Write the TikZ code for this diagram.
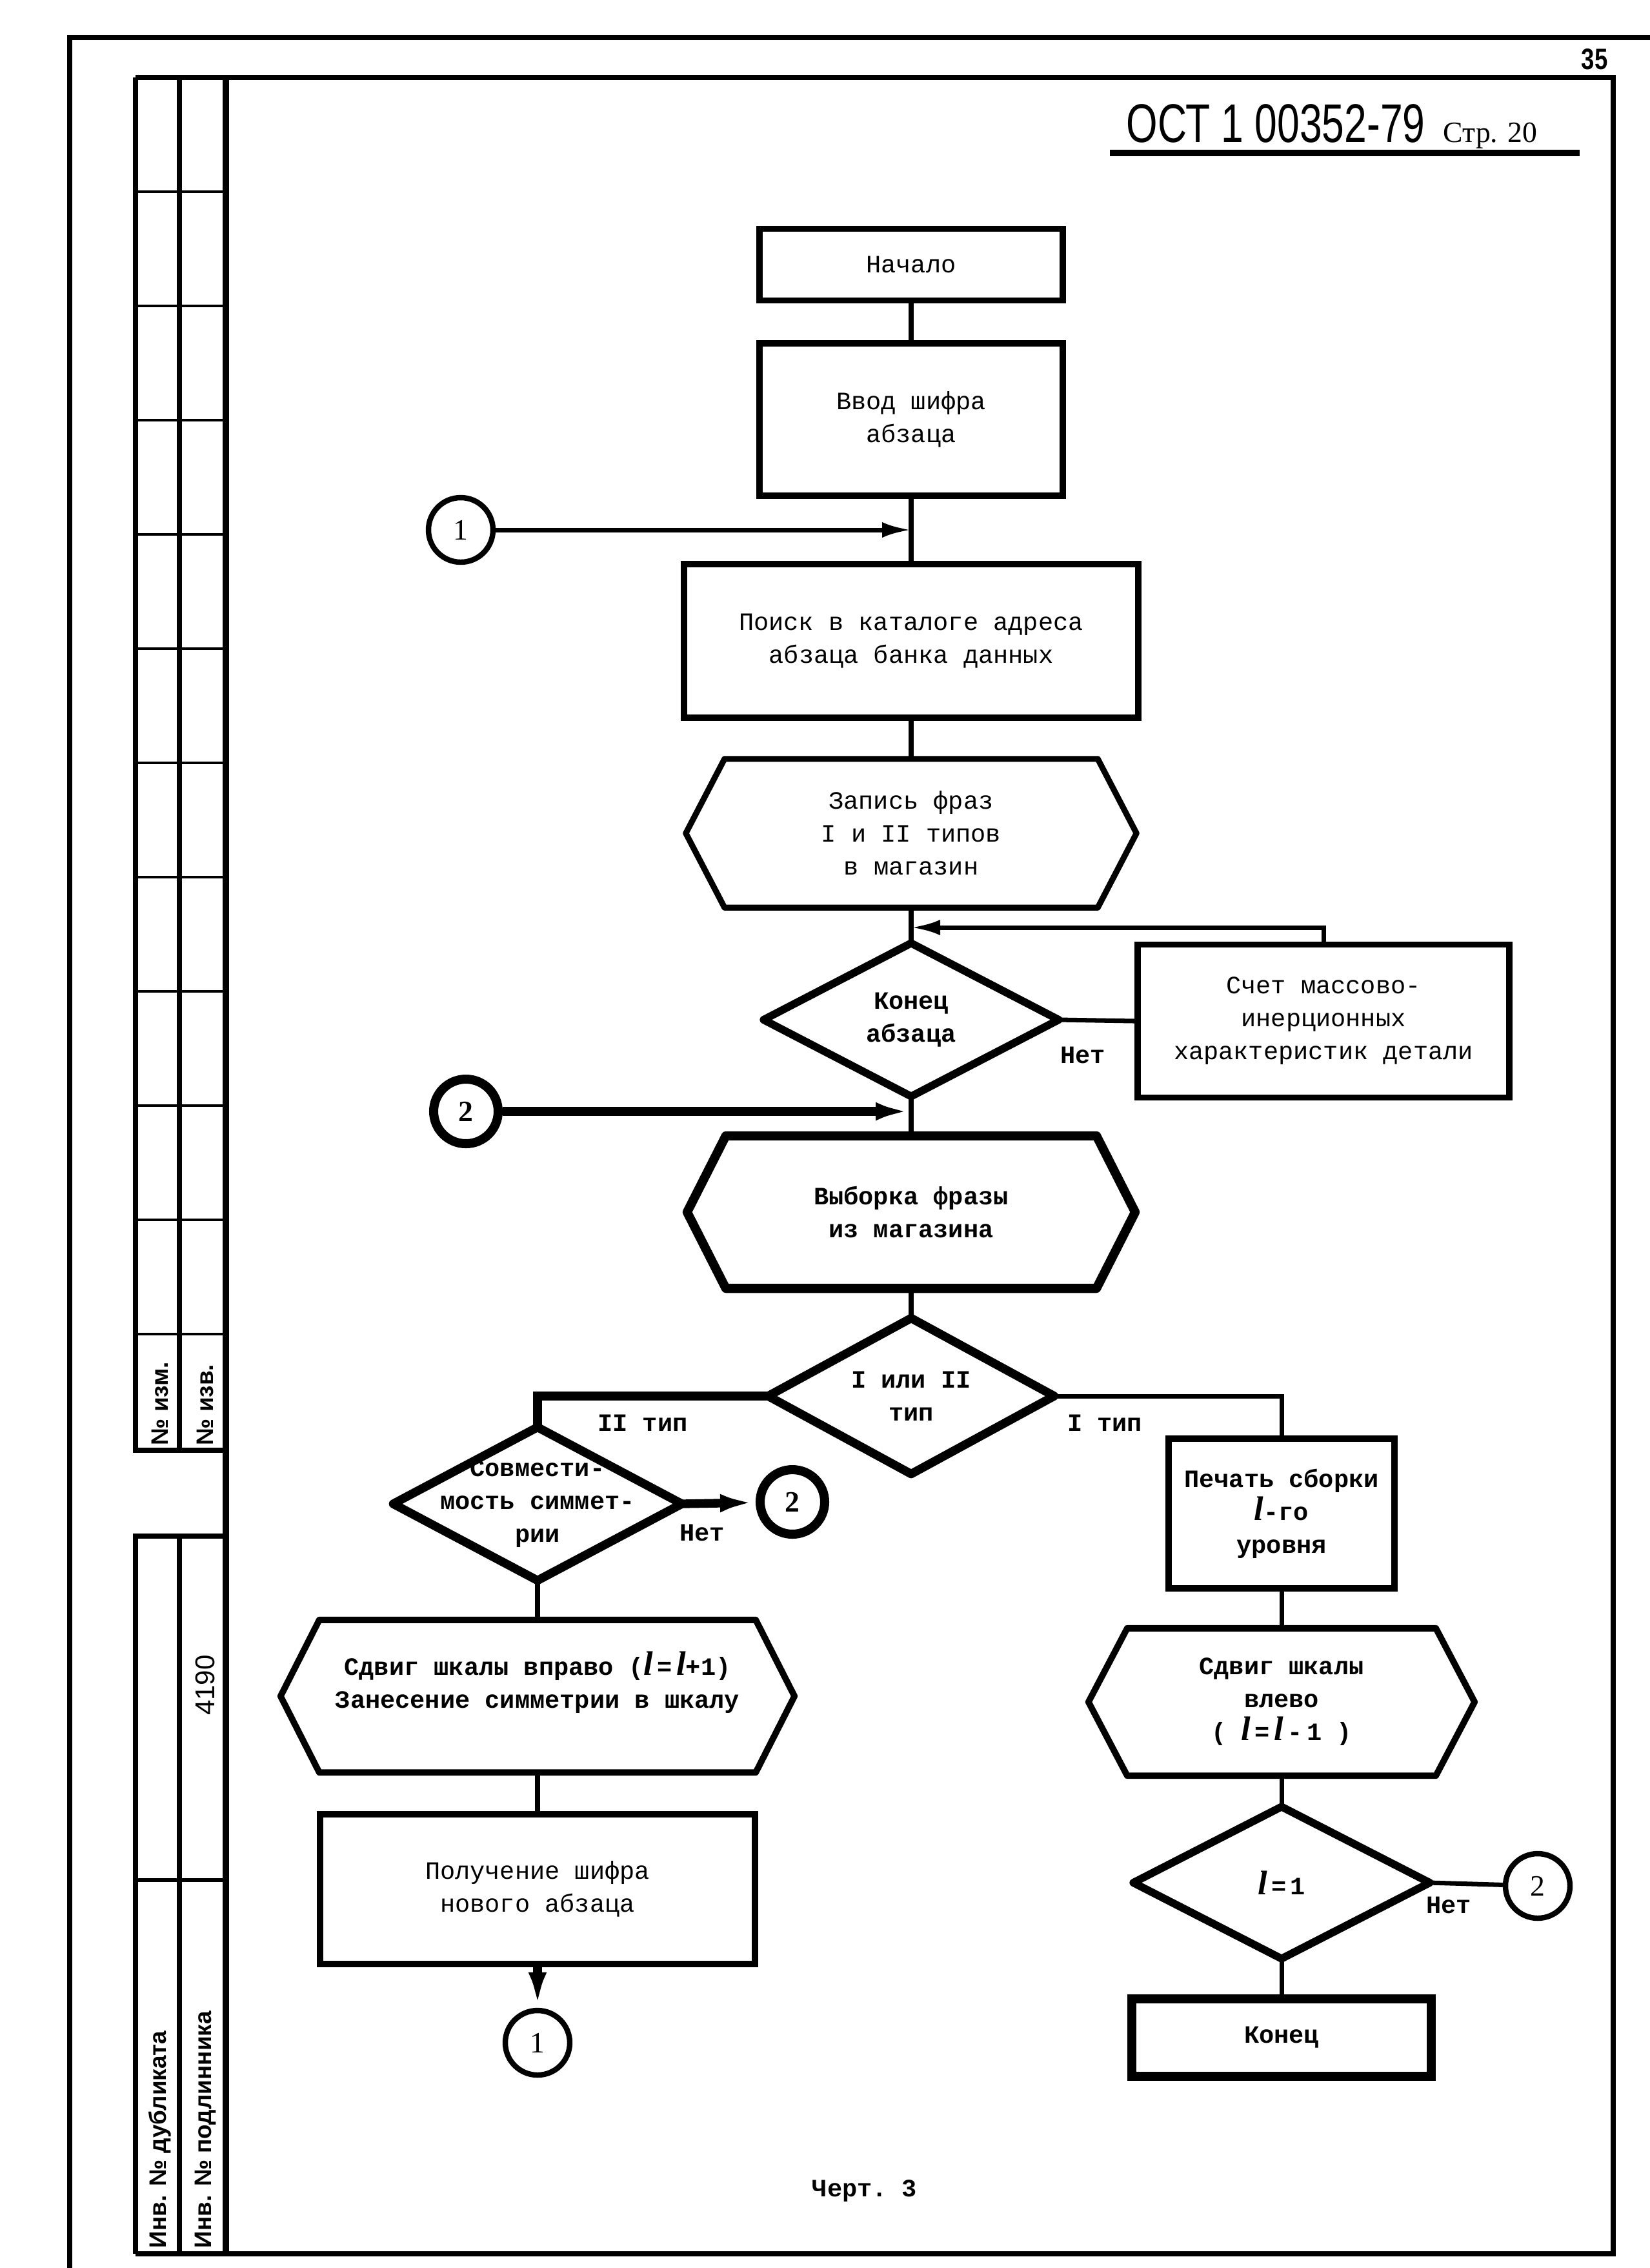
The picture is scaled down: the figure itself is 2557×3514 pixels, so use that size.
\documentclass[tikz,border=0pt]{standalone}
\usepackage{fontspec}
\setmainfont{Liberation Serif}
\setsansfont{Liberation Sans}
\setmonofont{Liberation Mono}
\usetikzlibrary{arrows.meta}
\newcommand{\lvar}{{\rmfamily\itshape\bfseries\fontsize{15}{15}\selectfont l}}

\begin{document}
\begin{tikzpicture}[x=0.1mm, y=-0.1mm,
    every node/.style={font=\ttfamily\fontsize{11}{14.5}\selectfont, align=center, inner sep=0pt},
    bf/.style={font=\ttfamily\bfseries\fontsize{11}{14.5}\selectfont},
    box/.style={draw, line width=2.6pt},
    bbox/.style={draw, line width=3.8pt},
    form/.style={draw=none},
    ring/.style={circle, draw, line width=2.4pt, minimum size=10mm, font=\rmfamily\fontsize{13}{13}\selectfont},
    bring/.style={ring, line width=4pt, font=\rmfamily\bfseries\fontsize{13}{13}\selectfont},
    stamp/.style={rotate=90, font=\sffamily\bfseries\fontsize{10.5}{12}\selectfont},
    conn/.style={line width=2pt},
    tconn/.style={line width=3.8pt},
    arr/.style={-{Latex[length=4.5mm,width=2.4mm]}},
    tarr/.style={-{Latex[length=5.5mm,width=2.8mm]}}
]
\useasboundingbox (0,0) rectangle (2557,3514);

% Page frame
\draw[line width=2.4pt] (108,3514) -- (108,58) -- (2557,58);
\draw[line width=2.4pt] (210,120) -- (2500,120) -- (2500,3492) -- (210,3492);
\draw[line width=2.6pt] (350,120) -- (350,3492);

% Stamp column
\draw[line width=2.4pt] (210,120) -- (210,2247) -- (350,2247);
\draw[line width=2.4pt] (278,120) -- (278,2247);
\foreach \k in {1,...,11}
    \draw[line width=1.4pt] (210,{120+177*\k}) -- (350,{120+177*\k});
\draw[line width=2.4pt] (350,2380) -- (210,2380) -- (210,3492);
\draw[line width=2.4pt] (278,2380) -- (278,3492);
\draw[line width=1.6pt] (210,2913) -- (350,2913);
\node[stamp, anchor=west] (izm) at (248,2240) {№ изм.};
\node[stamp, anchor=west] (izv) at (318,2240) {№ изв.};
\node[stamp, font=\sffamily\fontsize{12}{12}\selectfont] (inv) at (318,2611) {4190};
\node[stamp, anchor=west] (dubl) at (248,3484) {Инв. № дубликата};
\node[stamp, anchor=west] (podl) at (318,3484) {Инв. № подлинника};

% Header
\node[font=\sffamily\bfseries\fontsize{13}{13}\selectfont] (page) at (2471,92) {\scalebox{0.8}[1]{35}};
\node[anchor=base west, font=\sffamily\fontsize{24}{24}\selectfont] (ost) at (1745,220) {\scalebox{0.74}[1]{ОСТ 1 00352-79}};
\node[anchor=base west, font=\rmfamily\fontsize{13}{13}\selectfont] (str) at (2236,220) {Стр. 20};
\draw[line width=2.6pt] (1720,237) -- (2448,237);

% Main column
\node[box, minimum width=47mm, minimum height=11.1mm] (start) at (1412,410) {Начало};
\node[box, minimum width=47mm, minimum height=23.6mm] (vvod) at (1412,650) {Ввод шифра\\абзаца};
\node[ring] (c1top) at (714,821) {1};
\node[box, minimum width=70.4mm, minimum height=23.8mm] (poisk) at (1412,993) {Поиск в каталоге адреса\\абзаца банка данных};
\node[form, minimum width=69.7mm, minimum height=22.9mm] (zapis) at (1412,1291) {Запись фраз\\I и II типов\\в магазин};
\node[form, minimum width=45.6mm, minimum height=23.6mm, bf] (konab) at (1412,1580) {Конец\\абзаца};
\node[box, minimum width=57.6mm, minimum height=23.7mm] (schet) at (2051,1582) {Счет массово-\\инерционных\\характеристик детали};
\node[bring] (c2a) at (722,1722) {2};
\node[form, minimum width=69.3mm, minimum height=23.5mm, bf] (vyborka) at (1412,1878) {Выборка фразы\\из магазина};
\node[form, minimum width=44.2mm, minimum height=24mm, bf] (tip) at (1412,2163) {I или II\\тип};

% Left branch
\node[form, minimum width=44.6mm, minimum height=23.6mm, bf] (sovm) at (833,2330) {Совмести-\\мость симмет-\\рии};
\node[bring] (c2b) at (1228,2327) {2};
\node[form, minimum width=79.5mm, minimum height=23.5mm, bf] (vpravo) at (833,2628) {Сдвиг шкалы вправо (\lvar\,=\,\lvar+1)\\Занесение симметрии в шкалу\\~};
\node[box, minimum width=67.4mm, minimum height=23.2mm] (polu) at (833,2927) {Получение шифра\\нового абзаца};
\node[ring] (c1bot) at (833,3165) {1};

% Right branch
\node[box, minimum width=35mm, minimum height=23.2mm, bf] (pechat) at (1986,2345) {Печать сборки\\\lvar-го\\уровня};
\node[form, minimum width=59.7mm, minimum height=22.7mm, bf] (vlevo) at (1986,2637) {Сдвиг шкалы\\влево\\( \lvar\,=\,\lvar\,-\,1 )};
\node[form, minimum width=45.8mm, minimum height=23.4mm, bf] (lone) at (1986,2917) {\lvar\,=\,1};
\node[ring] (c2c) at (2383,2922) {2};
\node[bbox, minimum width=46.4mm, minimum height=12mm, bf] (konec) at (1986,3157) {Конец};

% Outlines of hexagons and diamonds
\foreach \h/\w in {zapis/2.6pt, vyborka/4pt, vpravo/2.8pt, vlevo/2.8pt}
    \draw[line width=\w, line join=round] ([xshift=6mm]\h.north west) -- ([xshift=-6mm]\h.north east) -- (\h.east)
        -- ([xshift=-6mm]\h.south east) -- ([xshift=6mm]\h.south west) -- (\h.west) -- cycle;
\foreach \d/\w in {konab/3.4pt, tip/3.8pt, sovm/3.8pt, lone/3.4pt}
    \draw[line width=\w, line join=round] (\d.north) -- (\d.east) -- (\d.south) -- (\d.west) -- cycle;

% Labels
\node[bf] (net1) at (1678,1635) {Нет};
\node[bf] (net2) at (1088,2375) {Нет};
\node[bf] (net3) at (2245,2952) {Нет};
\node[bf] (ltwo) at (996,2205) {II тип};
\node[bf] (lone1) at (1712,2205) {I тип};
\node[bf] (chert) at (1340,3395) {Черт. 3};

% Connectors
\coordinate (fb) at (1412,1437);
\draw[conn] (start.south) -- (vvod.north);
\draw[conn] (vvod.south) -- (poisk.north);
\draw[conn, arr] (c1top) -- (c1top -| vvod.south);
\draw[conn] (poisk.south) -- (zapis.north);
\draw[conn] (zapis.south) -- (konab.north);
\draw[conn] (konab.east) -- (schet.west);
\draw[conn, arr] (schet.north) |- (fb);
\draw[conn] (konab.south) -- (vyborka.north);
\draw[tconn, tarr] (c2a) -- (c2a -| vyborka.north);
\draw[conn] (vyborka.south) -- (tip.north);
\draw[tconn] (tip.west) -| (sovm.north);
\draw[conn] (tip.east) -| (pechat.north);
\draw[tconn, tarr] (sovm.east) -- (c2b);
\draw[conn] (sovm.south) -- (vpravo.north);
\draw[conn] (vpravo.south) -- (polu.north);
\draw[tconn, tarr] (polu.south) -- (c1bot);
\draw[conn] (pechat.south) -- (vlevo.north);
\draw[conn] (vlevo.south) -- (lone.north);
\draw[conn] (lone.east) -- (c2c);
\draw[conn] (lone.south) -- (konec.north);
\end{tikzpicture}
\end{document}
